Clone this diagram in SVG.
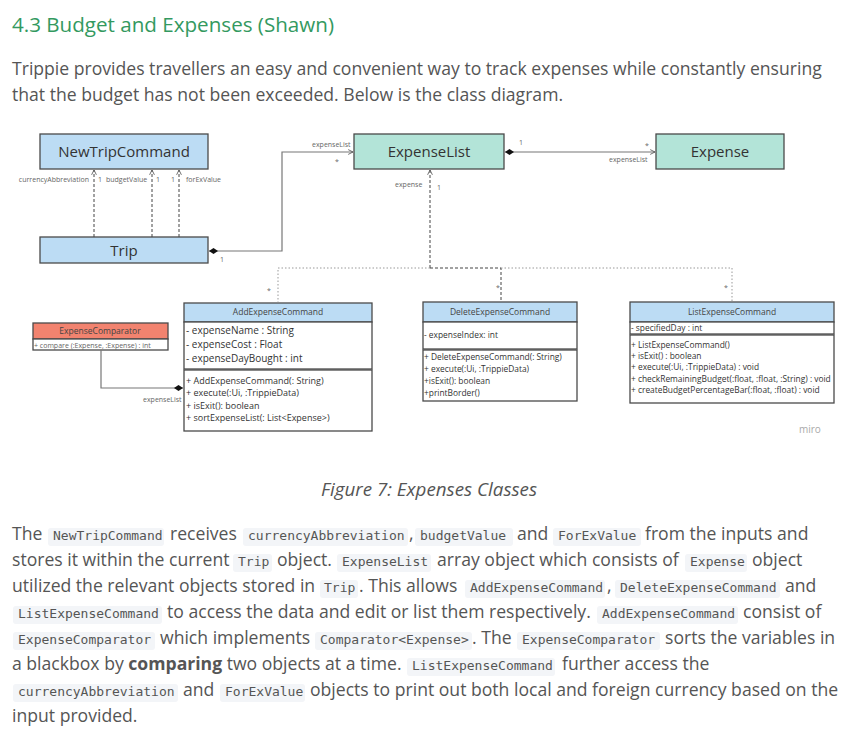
<svg xmlns="http://www.w3.org/2000/svg" width="858" height="734" viewBox="0 0 858 734">
  <style>
    .prose { font-family: "Open Sans", "Liberation Sans", sans-serif; font-size: 17.6px; fill: #555555; }
    .title { font-family: "Open Sans", "Liberation Sans", sans-serif; font-size: 20.6px; fill: #339960; }
    .code { font-family: "DejaVu Sans Mono", "Liberation Mono", monospace; font-size: 13px; fill: #555555; }
    .codebg { fill: #f3f5f8; }
    .caption { font-family: "Open Sans", "Liberation Sans", sans-serif; font-size: 18.8px; font-style: italic; fill: #555555; }
    .box { stroke: #4a4a4a; stroke-width: 1.3; }
    .blue { fill: #bcdcf4; }
    .teal { fill: #b3e4d8; }
    .salmon { fill: #f2836f; }
    .white { fill: #ffffff; }
    .big { font-family: "Open Sans", "Liberation Sans", sans-serif; font-size: 15px; fill: #333333; text-anchor: middle; }
    .hdr { font-family: "Open Sans", "Liberation Sans", sans-serif; font-size: 8.5px; fill: #444444; text-anchor: middle; }
    .attr { font-family: "Open Sans", "Liberation Sans", sans-serif; font-size: 10px; fill: #333333; }
    .m9 { font-family: "Open Sans", "Liberation Sans", sans-serif; font-size: 9px; fill: #333333; }
    .m8 { font-family: "Open Sans", "Liberation Sans", sans-serif; font-size: 8.4px; fill: #333333; }
    .lbl { font-family: "Open Sans", "Liberation Sans", sans-serif; font-size: 7px; fill: #666666; }
    .solid { fill: none; stroke: #777777; stroke-width: 1.2; }
    .dash { fill: none; stroke: #444444; stroke-width: 1; stroke-dasharray: 3 2; }
    .dot { fill: none; stroke: #999999; stroke-width: 1; stroke-dasharray: 1.5 2; }
  </style>
  <defs>
    <marker id="open" viewBox="0 0 10 10" refX="9" refY="5" markerWidth="6" markerHeight="6" orient="auto" markerUnits="userSpaceOnUse">
      <path d="M1,1 L9,5 L1,9" fill="none" stroke="#555555" stroke-width="1.4"/>
    </marker>
    <marker id="diamond" viewBox="0 0 12 8" refX="12" refY="4" markerWidth="9" markerHeight="6" orient="auto-start-reverse" markerUnits="userSpaceOnUse">
      <path d="M0,4 L6,0 L12,4 L6,8 Z" fill="#111111"/>
    </marker>
  </defs>

  <rect width="858" height="734" fill="#ffffff"/>

  <!-- heading and intro -->
  <text class="title" x="12" y="32">4.3 Budget and Expenses (Shawn)</text>
  <text class="prose" x="12" y="75">Trippie provides travellers an easy and convenient way to track expenses while constantly ensuring</text>
  <text class="prose" x="12" y="101">that the budget has not been exceeded. Below is the class diagram.</text>

  <!-- class nodes -->
  <g id="NewTripCommand">
    <rect class="box blue" x="40" y="134" width="168" height="35"/>
    <text class="big" x="124" y="157">NewTripCommand</text>
  </g>

  <g id="Trip">
    <rect class="box blue" x="40" y="237" width="168" height="26"/>
    <text class="big" x="124" y="256">Trip</text>
  </g>

  <g id="ExpenseList">
    <rect class="box teal" x="354" y="134" width="150" height="35"/>
    <text class="big" x="429" y="157">ExpenseList</text>
  </g>

  <g id="Expense">
    <rect class="box teal" x="656" y="134" width="128" height="35"/>
    <text class="big" x="720" y="157">Expense</text>
  </g>

  <g id="ExpenseComparator">
    <rect class="box salmon" x="33" y="323" width="135" height="16"/>
    <rect class="box white" x="33" y="339" width="135" height="11"/>
    <text class="hdr" x="100" y="334" font-size="7">ExpenseComparator</text>
    <text class="lbl" x="34" y="347.5" fill="#333333" font-size="8.2">+ compare (:Expense, :Expense) : int</text>
  </g>

  <g id="AddExpenseCommand">
    <rect class="box blue" x="184" y="303" width="188" height="19"/>
    <rect class="box white" x="184" y="322" width="188" height="47"/>
    <rect class="box white" x="184" y="370" width="188" height="61"/>
    <text class="hdr" x="278" y="315" font-size="9.2">AddExpenseCommand</text>
    <text class="attr" x="186" y="334">- expenseName : String</text>
    <text class="attr" x="186" y="348">- expenseCost : Float</text>
    <text class="attr" x="186" y="362">- expenseDayBought : int</text>
    <text class="m9" x="186" y="384">+ AddExpenseCommand(: String)</text>
    <text class="m9" x="186" y="396">+ execute(:Ui, :TrippieData)</text>
    <text class="m9" x="186" y="409">+ isExit(): boolean</text>
    <text class="m9" x="186" y="421">+ sortExpenseList(: List&lt;Expense&gt;)</text>
  </g>

  <g id="DeleteExpenseCommand">
    <rect class="box blue" x="423" y="302" width="154" height="20"/>
    <rect class="box white" x="423" y="322" width="154" height="27"/>
    <rect class="box white" x="423" y="350" width="154" height="51"/>
    <text class="hdr" x="500" y="315">DeleteExpenseCommand</text>
    <text class="m8" x="424" y="338" font-size="8.8">- expenseIndex: int</text>
    <text class="m8" x="424" y="360" font-size="8.8">+ DeleteExpenseCommand(: String)</text>
    <text class="m8" x="424" y="372" font-size="8.8">+ execute(:Ui, :TrippieData)</text>
    <text class="m8" x="424" y="384" font-size="8.8">+isExit(): boolean</text>
    <text class="m8" x="424" y="396" font-size="8.8">+printBorder()</text>
  </g>

  <g id="ListExpenseCommand">
    <rect class="box blue" x="630" y="302" width="204" height="20"/>
    <rect class="box white" x="630" y="322" width="204" height="12"/>
    <rect class="box white" x="630" y="335" width="204" height="68"/>
    <text class="hdr" x="732" y="315" font-size="8">ListExpenseCommand</text>
    <text class="m8" x="631" y="331">- specifiedDay : int</text>
    <text class="m8" x="631" y="348">+ ListExpenseCommand()</text>
    <text class="m8" x="631" y="359">+ isExit() : boolean</text>
    <text class="m8" x="631" y="370">+ execute(:Ui, :TrippieData) : void</text>
    <text class="m8" x="631" y="382">+ checkRemainingBudget(:float, :float, :String) : void</text>
    <text class="m8" x="631" y="393">+ createBudgetPercentageBar(:float, :float) : void</text>
  </g>

  <!-- connectors -->
  <g id="connectors">
    <!-- Trip -> NewTripCommand dependencies -->
    <path class="dash" d="M94,237 V170" marker-end="url(#open)"/>
    <path class="dash" d="M152,237 V170" marker-end="url(#open)"/>
    <path class="dash" d="M179,237 V170" marker-end="url(#open)"/>
    <text class="lbl" x="89" y="182" text-anchor="end">currencyAbbreviation</text>
    <text class="lbl" x="98" y="182">1</text>
    <text class="lbl" x="106" y="182">budgetValue</text>
    <text class="lbl" x="156" y="182">1</text>
    <text class="lbl" x="171" y="182">1</text>
    <text class="lbl" x="186" y="182">forExValue</text>

    <!-- Trip -> ExpenseList -->
    <path class="solid" d="M209,251 H282 V152 H353" marker-start="url(#diamond)" marker-end="url(#open)"/>
    <text class="lbl" x="220" y="262">1</text>
    <text class="lbl" x="312" y="147">expenseList</text>
    <text class="lbl" x="335" y="164">*</text>

    <!-- ExpenseList -> Expense -->
    <path class="solid" d="M505,152 H655" marker-start="url(#diamond)" marker-end="url(#open)"/>
    <text class="lbl" x="519" y="145">1</text>
    <text class="lbl" x="645" y="148">*</text>
    <text class="lbl" x="609" y="162">expenseList</text>

    <!-- commands -> ExpenseList -->
    <path class="dash" d="M430,268 V170" marker-end="url(#open)"/>
    <path class="dash" d="M430,268 H501 V302"/>
    <path class="dot" d="M430,268 H278 V302"/>
    <path class="dot" d="M501,268 H732 V302"/>
    <text class="lbl" x="395" y="187">expense</text>
    <text class="lbl" x="437" y="190">1</text>
    <text class="lbl" x="267" y="293">*</text>
    <text class="lbl" x="496" y="290">*</text>
    <text class="lbl" x="724" y="290">*</text>

    <!-- ExpenseComparator -> AddExpenseCommand -->
    <path class="solid" d="M101,350 V388 H183" marker-end="url(#diamond)"/>
    <text class="lbl" x="143" y="402">expenseList</text>
  </g>

  <text x="799" y="433" font-family="Open Sans, Liberation Sans, sans-serif" font-size="10" fill="#aaaaaa">miro</text>

  <text class="caption" x="429" y="496" text-anchor="middle">Figure 7: Expenses Classes</text>

  <!-- inline code backgrounds -->
  <g>
    <rect class="codebg" x="48" y="528" width="116" height="18" rx="3"/>
    <rect class="codebg" x="243" y="528" width="165" height="18" rx="3"/>
    <rect class="codebg" x="415" y="528" width="98" height="18" rx="3"/>
    <rect class="codebg" x="553" y="528" width="88" height="18" rx="3"/>
    <rect class="codebg" x="233" y="554" width="39" height="18" rx="3"/>
    <rect class="codebg" x="337" y="554" width="94" height="18" rx="3"/>
    <rect class="codebg" x="685" y="554" width="62" height="18" rx="3"/>
    <rect class="codebg" x="320" y="580" width="38" height="18" rx="3"/>
    <rect class="codebg" x="465" y="580" width="140" height="18" rx="3"/>
    <rect class="codebg" x="615" y="580" width="165" height="18" rx="3"/>
    <rect class="codebg" x="13" y="606" width="149" height="18" rx="3"/>
    <rect class="codebg" x="597" y="606" width="141" height="18" rx="3"/>
    <rect class="codebg" x="13" y="632" width="142" height="18" rx="3"/>
    <rect class="codebg" x="315" y="632" width="157" height="18" rx="3"/>
    <rect class="codebg" x="517" y="632" width="143" height="18" rx="3"/>
    <rect class="codebg" x="407" y="658" width="148" height="18" rx="3"/>
    <rect class="codebg" x="13" y="684" width="165" height="18" rx="3"/>
    <rect class="codebg" x="220" y="684" width="85" height="18" rx="3"/>
  </g>

  <!-- explanation paragraph -->
  <g>
    <text class="prose" x="12" y="540">The</text>
    <text class="code" x="53" y="540">NewTripCommand</text>
    <text class="prose" x="170" y="540">receives</text>
    <text class="code" x="248" y="540">currencyAbbreviation</text>
    <text class="prose" x="409" y="540">,</text>
    <text class="code" x="420" y="540">budgetValue</text>
    <text class="prose" x="517" y="540">and</text>
    <text class="code" x="558" y="540">ForExValue</text>
    <text class="prose" x="645" y="540">from the inputs and</text>

    <text class="prose" x="12" y="566">stores it within the current</text>
    <text class="code" x="238" y="566">Trip</text>
    <text class="prose" x="277" y="566">object.</text>
    <text class="code" x="342" y="566">ExpenseList</text>
    <text class="prose" x="437" y="566">array object which consists of</text>
    <text class="code" x="690" y="566">Expense</text>
    <text class="prose" x="752" y="566">object</text>

    <text class="prose" x="12" y="592">utilized the relevant objects stored in</text>
    <text class="code" x="324" y="592">Trip</text>
    <text class="prose" x="359" y="592">. This allows</text>
    <text class="code" x="470" y="592">AddExpenseCommand</text>
    <text class="prose" x="607" y="592">,</text>
    <text class="code" x="620" y="592">DeleteExpenseCommand</text>
    <text class="prose" x="785" y="592">and</text>

    <text class="code" x="18" y="618">ListExpenseCommand</text>
    <text class="prose" x="167" y="618">to access the data and edit or list them respectively.</text>
    <text class="code" x="602" y="618">AddExpenseCommand</text>
    <text class="prose" x="743" y="618">consist of</text>

    <text class="code" x="18" y="644">ExpenseComparator</text>
    <text class="prose" x="160" y="644">which implements</text>
    <text class="code" x="320" y="644">Comparator&lt;Expense&gt;</text>
    <text class="prose" x="472" y="644">. The</text>
    <text class="code" x="522" y="644">ExpenseComparator</text>
    <text class="prose" x="665" y="644">sorts the variables in</text>

    <text class="prose" x="12" y="670">a blackbox by <tspan font-weight="bold">comparing</tspan> two objects at a time.</text>
    <text class="code" x="412" y="670">ListExpenseCommand</text>
    <text class="prose" x="562" y="670">further access the</text>

    <text class="code" x="18" y="696">currencyAbbreviation</text>
    <text class="prose" x="183" y="696">and</text>
    <text class="code" x="225" y="696">ForExValue</text>
    <text class="prose" x="310" y="696">objects to print out both local and foreign currency based on the</text>

    <text class="prose" x="12" y="722">input provided.</text>
  </g>
</svg>
